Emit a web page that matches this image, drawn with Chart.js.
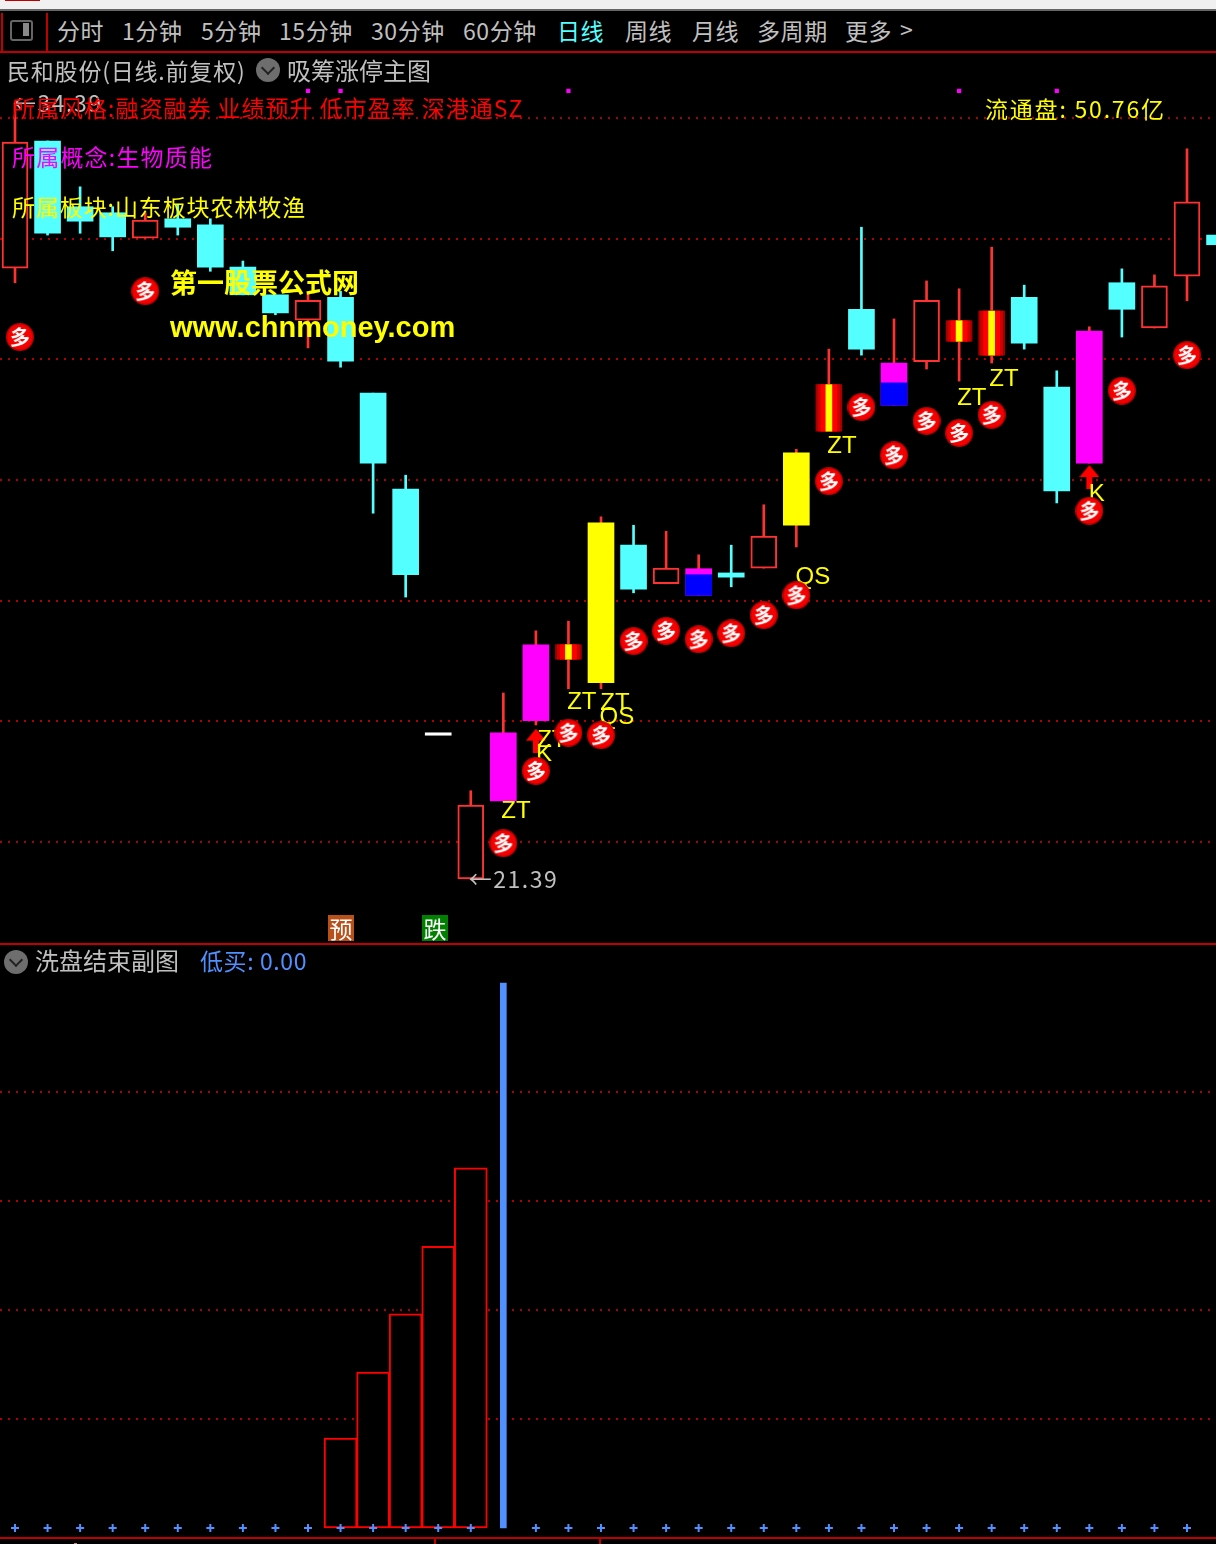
<!DOCTYPE html>
<html>
<head>
<meta charset="utf-8">
<title>民和股份</title>
<script src="https://cdn.jsdelivr.net/npm/chart.js@4"></script>
<style>
html, body { margin: 0; background: #000; }
#page { position: relative; width: 1216px; height: 1544px; overflow: hidden; background: #000; font-family: "Noto Sans CJK SC", sans-serif; }
#page div, #page canvas { position: absolute; }
.t { color: #c0c0c0; font-size: 23px; line-height: 30px; height: 30px; white-space: pre; }
.bar { letter-spacing: 0.6px; }
.line { background: #c00000; }
.circle { width: 24px; height: 24px; border-radius: 12px; background: #6e6e6e; }
.circle:after { content: ""; position: absolute; left: 7px; top: 5px; width: 8px; height: 8px; border-right: 2px solid #222; border-bottom: 2px solid #222; transform: rotate(45deg); }
.tag { width: 26px; height: 26px; line-height: 26px; text-align: center; color: #fff; font-size: 23px; }
</style>
</head>
<body>
<div id="page">
  <div style="left:0;top:0;width:1216px;height:9px;background:#f0f0f0"></div>
  <div style="left:5px;top:0;width:35px;height:1px;background:#c00000"></div>
  <div style="left:0;top:9px;width:1216px;height:2px;background:#666"></div>

  <div class="line" style="left:1px;top:13px;width:2px;height:38px"></div>
  <div class="line" style="left:46px;top:13px;width:2px;height:38px"></div>
  <div class="line" style="left:0;top:51px;width:1216px;height:2px"></div>
  <div style="left:10px;top:20px;width:19px;height:17px;border:2px solid #666;border-radius:3px"></div>
  <div style="left:23px;top:23px;width:6px;height:13px;background:#888"></div>

  <div class="t bar" style="left:57px;top:15px">分时</div>
  <div class="t bar" style="left:122px;top:15px">1分钟</div>
  <div class="t bar" style="left:201px;top:15px">5分钟</div>
  <div class="t bar" style="left:279px;top:15px">15分钟</div>
  <div class="t bar" style="left:371px;top:15px">30分钟</div>
  <div class="t bar" style="left:463px;top:15px">60分钟</div>
  <div class="t bar" style="left:557px;top:15px;color:#54ffff">日线</div>
  <div class="t bar" style="left:625px;top:15px">周线</div>
  <div class="t bar" style="left:692px;top:15px">月线</div>
  <div class="t bar" style="left:757px;top:15px">多周期</div>
  <div class="t bar" style="left:845px;top:15px">更多</div>
  <div class="t" style="left:900px;top:14px">&gt;</div>

  <canvas id="mainChart" width="1216" height="890" style="left:0;top:53px"></canvas>
  <div class="line" style="left:0;top:943px;width:1216px;height:2px"></div>
  <canvas id="subChart" width="1216" height="592" style="left:0;top:945px"></canvas>
  <div class="line" style="left:0;top:1537px;width:1216px;height:2px"></div>
  <div class="line" style="left:434px;top:1539px;width:2px;height:5px"></div>
  <div class="line" style="left:599px;top:1539px;width:2px;height:5px"></div>
  <div style="left:74px;top:1543px;width:3px;height:1px;background:#e08070"></div>

  <div class="t" style="left:7px;top:55px;letter-spacing:0.8px">民和股份(日线.前复权)</div>
  <div class="circle" style="left:256px;top:58px"></div>
  <div class="t" style="left:287px;top:55px;font-size:24px">吸筹涨停主图</div>

  <div class="t" style="left:12px;top:92px;color:#ff0000;letter-spacing:1px">所属风格:融资融券 业绩预升 低市盈率 深港通SZ</div>
  <div class="t" style="left:12px;top:141px;color:#ff00ff;letter-spacing:1.2px">所属概念:生物质能</div>
  <div class="t" style="left:12px;top:191px;color:#ffff00;letter-spacing:0.9px">所属板块:山东板块农林牧渔</div>
  <div class="t" style="left:985px;top:93px;color:#ffff00;letter-spacing:1.8px">流通盘: 50.76亿</div>
  <div class="t" style="left:170px;top:267px;color:#ffff00;font-size:27px;font-weight:700">第一股票公式网</div>
  <div class="t" style="left:170px;top:312px;color:#ffff00;font-size:29px;font-weight:700;font-family:'Liberation Sans'">www.chnmoney.com</div>
  <div class="tag" style="left:328px;top:915px;background:#b8501a">预</div>
  <div class="tag" style="left:422px;top:915px;background:#007f00">跌</div>

  <div class="circle" style="left:4px;top:950px"></div>
  <div class="t" style="left:35px;top:945px;font-size:24px">洗盘结束副图</div>
  <div class="t" style="left:200px;top:945px;color:#5090ff;letter-spacing:0.6px">低买: 0.00</div>
</div>

<script>
// main panel, one entry per trading day
const days = [0, 1, 2, 3, 4, 5, 6, 7, 8, 9, 10, 11, 12, 13, 14, 15, 16, 17, 18, 19, 20, 21, 22, 23, 24, 25, 26, 27, 28, 29, 30, 31, 32, 33, 34, 35, 36, 37];
const opens = [31.51, 33.62, 32.53, 32.43, 32.01, 32.33, 32.23, 31.53, 31.07, 30.65, 31.03, 29.44, 27.85, 23.81, 21.39, 22.68, 24.01, 25.03, 24.64, 26.92, 26.28, 26.53, 26.46, 26.54, 27.25, 28.81, 30.83, 29.94, 29.96, 30.30, 30.07, 31.03, 29.54, 28.28, 31.27, 30.52, 31.38, 32.06];
const closes = [33.60, 32.09, 32.29, 32.03, 32.31, 32.19, 31.53, 31.07, 30.77, 30.98, 29.97, 28.28, 26.43, 23.77, 22.61, 23.81, 25.27, 25.27, 27.29, 26.19, 26.54, 26.09, 26.39, 27.07, 28.45, 29.58, 30.17, 29.24, 30.98, 30.64, 30.80, 30.27, 27.82, 30.47, 30.83, 31.22, 32.61, 31.90];
const highs = [34.25, 33.62, 32.86, 32.53, 32.43, 32.56, 32.33, 31.63, 31.07, 31.10, 31.13, 29.44, 28.08, 23.81, 22.85, 24.47, 25.50, 25.66, 27.39, 27.25, 27.15, 26.76, 26.92, 27.59, 28.51, 30.17, 32.19, 30.67, 31.30, 31.17, 31.86, 31.23, 29.81, 30.54, 31.50, 31.40, 33.49, 32.06];
const lows = [31.27, 32.06, 32.09, 31.80, 32.01, 32.06, 31.46, 31.07, 30.74, 30.19, 29.87, 27.45, 26.06, 23.77, 21.39, 22.68, 23.94, 24.54, 24.54, 26.13, 26.28, 26.09, 26.23, 26.54, 26.89, 28.81, 30.07, 29.24, 29.84, 29.64, 29.94, 30.17, 27.62, 28.28, 30.37, 30.52, 30.97, 31.90];
// u = plain rise, d = fall, f = flat, m = magenta rise, y = yellow rise, z = limit up, s = split magenta/blue
const kinds = ['u', 'd', 'd', 'd', 'u', 'd', 'd', 'd', 'd', 'u', 'd', 'd', 'd', 'f', 'u', 'm', 'm', 'z', 'y', 'd', 'u', 's', 'd', 'u', 'y', 'z', 'd', 's', 'u', 'z', 'z', 'd', 'd', 'm', 'd', 'u', 'u', 'd'];
const splitPrices = [26.43, 29.61];

const priceTicks = [22, 24, 26, 28, 30, 32, 34];
const badgeDays = [0.15, 4, 15, 16, 17, 18, 19, 20, 21, 22, 23, 24, 25, 26, 27, 28, 29, 30, 33, 34, 36];
const badgePrices = [30.37, 31.13, 21.98, 23.18, 23.81, 23.77, 25.33, 25.50, 25.36, 25.46, 25.76, 26.09, 27.98, 29.21, 28.41, 28.98, 28.78, 29.08, 27.49, 29.48, 30.07];
const arrowDays = [16, 33];
const arrowPrices = [23.68, 28.05];
const dotDays = [9, 10, 17, 29, 32];
const dotPrices = [34.45, 34.45, 34.45, 34.45, 34.45];
const signalTexts = ['ZT', 'ZT', 'ZT', 'QS', 'ZT', 'K', 'QS', 'ZT', 'ZT', 'ZT', 'K'];
const signalDays = [15.39, 17.41, 18.43, 18.49, 16.49, 16.25, 24.51, 25.40, 29.39, 30.38, 33.23];
const signalPrices = [22.50, 24.32, 24.30, 24.06, 23.69, 23.46, 26.38, 28.56, 29.36, 29.66, 27.77];

// lower panel
const washDays = [10, 11, 12, 13, 14];
const washValues = [1.65, 2.86, 3.93, 5.17, 6.61];
const lowBuyDays = [0, 1, 2, 3, 4, 5, 6, 7, 8, 9, 10, 11, 12, 13, 14, 15, 16, 17, 18, 19, 20, 21, 22, 23, 24, 25, 26, 27, 28, 29, 30, 31, 32, 33, 34, 35, 36];
const lowBuyValues = [0, 0, 0, 0, 0, 0, 0, 0, 0, 0, 0, 0, 0, 0, 0, 10, 0, 0, 0, 0, 0, 0, 0, 0, 0, 0, 0, 0, 0, 0, 0, 0, 0, 0, 0, 0, 0];
const subTicks = [2, 4, 6, 8];

const RED = '#ff3232';
const CYAN = '#54ffff';

function bodyColor(kind) {
    if (kind == 'd') return CYAN;
    if (kind == 'f') return '#ffffff';
    if (kind == 'm' || kind == 's') return '#ff00ff';
    if (kind == 'y') return '#ffff00';
    return '#000000';
}

function ztBars(color, thickness, order) {
    const ztDays = days.filter(d => kinds[d] == 'z');
    return {
        type: 'bar', grouped: false, order: order, barThickness: thickness, backgroundColor: color,
        data: ztDays.map(d => ({ x: d, y: [opens[d], closes[d]] }))
    };
}

function makeBadge() {
    const c = document.createElement('canvas');
    c.width = 28;
    c.height = 28;
    const g = c.getContext('2d');
    g.fillStyle = '#c00000';
    g.beginPath();
    g.arc(14, 14, 14, 0, Math.PI * 2);
    g.fill();
    g.fillStyle = '#f40000';
    g.beginPath();
    g.arc(14, 14, 12.5, 0, Math.PI * 2);
    g.fill();
    g.fillStyle = '#ffffff';
    g.font = 'bold 20px "Noto Sans CJK SC"';
    g.textAlign = 'center';
    g.textBaseline = 'middle';
    g.fillText('多', 14, 14);
    return c;
}

function makeArrow() {
    const c = document.createElement('canvas');
    c.width = 20;
    c.height = 24;
    const g = c.getContext('2d');
    g.fillStyle = '#ff0000';
    g.beginPath();
    g.moveTo(10, 0);
    g.lineTo(20, 12);
    g.lineTo(0, 12);
    g.closePath();
    g.fill();
    g.fillRect(7, 12, 6, 12);
    return c;
}

const dayAxis = { type: 'linear', min: -0.4607, max: 36.891, offset: false, display: false };

function priceAxis(min, max, ticks) {
    return {
        min: min,
        max: max,
        afterBuildTicks: function(axis) { axis.ticks = ticks.map(v => ({ value: v })); },
        ticks: { display: false },
        border: { display: false, dash: [2, 6] },
        grid: { color: '#b00000', lineWidth: 2, drawTicks: false }
    };
}

// ZT/QS/K sit under the badges, the high and low notes sit on top of everything
const signalPlugin = {
    id: 'signals',
    beforeDatasetDraw: function(chart, args) {
        if (chart.data.datasets[args.index].label != 'badge') return;
        const g = chart.ctx;
        g.save();
        g.font = '24px "Liberation Sans"';
        g.fillStyle = '#ffff00';
        g.textAlign = 'center';
        g.textBaseline = 'middle';
        signalTexts.forEach(function(text, i) {
            g.fillText(text, chart.scales.x.getPixelForValue(signalDays[i]), chart.scales.y.getPixelForValue(signalPrices[i]));
        });
        g.restore();
    },
    afterDatasetsDraw: function(chart) {
        const g = chart.ctx;
        g.save();
        g.font = '23px "Noto Sans CJK SC"';
        g.letterSpacing = '1.5px';
        g.fillStyle = '#c0c0c0';
        g.textBaseline = 'middle';
        const lowDay = lows.indexOf(Math.min(...lows));
        const highDay = highs.indexOf(Math.max(...highs));
        g.fillText('←' + lows[lowDay].toFixed(2), chart.scales.x.getPixelForValue(lowDay) - 2, chart.scales.y.getPixelForValue(lows[lowDay]));
        g.fillText('←34.39', chart.scales.x.getPixelForValue(highDay) - 2, chart.scales.y.getPixelForValue(highs[highDay]));
        g.restore();
    }
};

new Chart(document.getElementById('mainChart'), {
    type: 'bar',
    data: {
        datasets: [
            {
                type: 'scatter', label: 'badge', order: 1,
                pointStyle: makeBadge(),
                data: badgeDays.map((d, i) => ({ x: d, y: badgePrices[i] }))
            },
            {
                type: 'scatter', label: 'arrow', order: 2,
                pointStyle: makeArrow(),
                data: arrowDays.map((d, i) => ({ x: d, y: arrowPrices[i] }))
            },
            {
                type: 'scatter', label: 'dots', order: 3,
                pointStyle: 'rect', pointRadius: 3, backgroundColor: '#ff00ff', borderWidth: 0,
                data: dotDays.map((d, i) => ({ x: d, y: dotPrices[i] }))
            },
            ztBars('#ffff00', 6, 4),
            ztBars('#ff0000', 16, 5),
            ztBars('#cc0000', 22, 6),
            ztBars('#a00000', 26, 7),
            {
                type: 'bar', grouped: false, order: 8, barThickness: 26, backgroundColor: '#0000ff',
                data: days.filter(d => kinds[d] == 's').map((d, i) => ({ x: d, y: [lows[d], splitPrices[i]] }))
            },
            {
                type: 'bar', grouped: false, order: 9, barThickness: 26,
                backgroundColor: kinds.map(bodyColor),
                borderColor: kinds.map(k => k == 'u' ? RED : 'rgba(0,0,0,0)'),
                borderWidth: kinds.map(k => k == 'u' ? 2 : 0),
                borderSkipped: false,
                data: days.map(d => ({ x: d, y: [opens[d], closes[d]] }))
            },
            {
                type: 'bar', grouped: false, order: 10, barThickness: 2,
                backgroundColor: days.filter(d => kinds[d] != 'f').map(d => kinds[d] == 'd' ? CYAN : RED),
                data: days.filter(d => kinds[d] != 'f').map(d => ({ x: d, y: [lows[d], highs[d]] }))
            }
        ]
    },
    options: {
        responsive: false,
        animation: false,
        events: [],
        layout: { padding: 0, autoPadding: false },
        plugins: { legend: { display: false }, tooltip: { enabled: false } },
        scales: {
            x: dayAxis,
            y: priceAxis(20.326, 35.078, priceTicks)
        }
    },
    plugins: [signalPlugin]
});

new Chart(document.getElementById('subChart'), {
    type: 'bar',
    data: {
        datasets: [
            {
                type: 'scatter', label: '低买', order: 1,
                pointStyle: 'cross', pointRadius: 4, borderColor: '#5090ff', borderWidth: 2,
                data: lowBuyDays.map((d, i) => ({ x: d, y: lowBuyValues[i] })).filter(p => p.y == 0)
            },
            {
                type: 'bar', grouped: false, order: 2, barThickness: 6, backgroundColor: '#5090ff',
                data: lowBuyDays.map((d, i) => ({ x: d, y: lowBuyValues[i] }))
            },
            {
                type: 'bar', grouped: false, order: 3, barThickness: 33,
                backgroundColor: '#000000', borderColor: '#ff0000', borderWidth: 2, borderSkipped: false,
                data: washDays.map((d, i) => ({ x: d, y: washValues[i] }))
            }
        ]
    },
    options: {
        responsive: false,
        animation: false,
        events: [],
        layout: { padding: 0, autoPadding: false },
        plugins: { legend: { display: false }, tooltip: { enabled: false } },
        scales: {
            x: dayAxis,
            y: priceAxis(-0.165, 10.697, subTicks)
        }
    }
});
</script>
</body>
</html>
